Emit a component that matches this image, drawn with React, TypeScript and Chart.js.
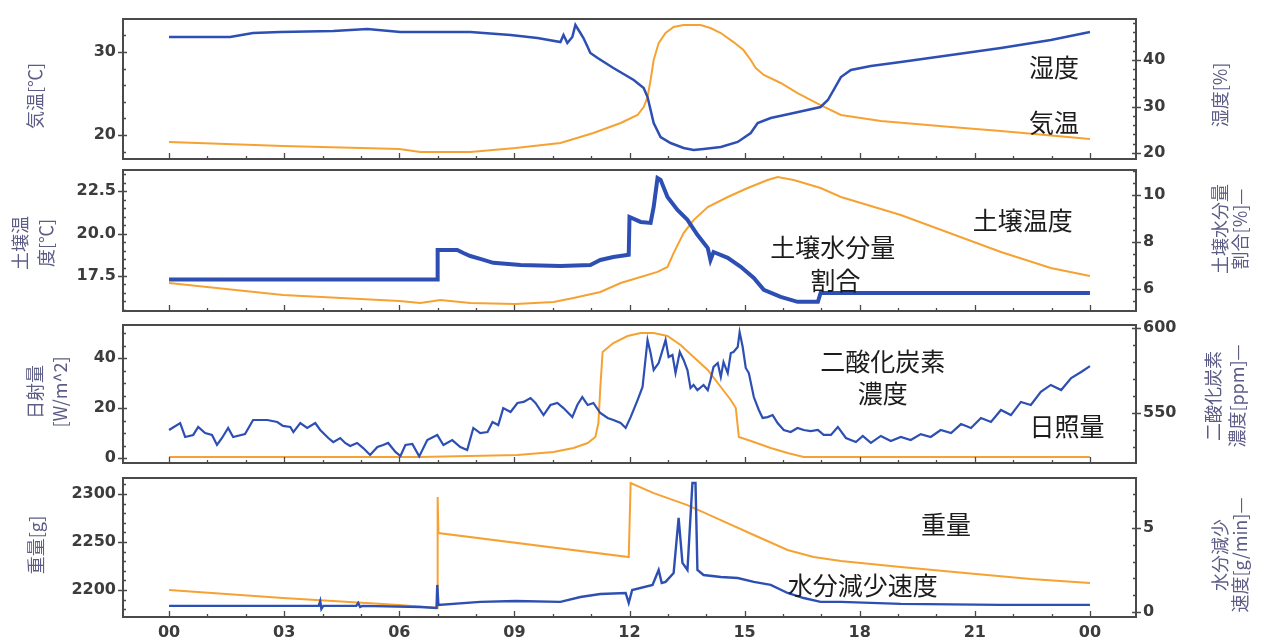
import React, { useEffect, useRef } from 'react';
import { Chart, registerables } from 'chart.js';

Chart.register(...registerables);

// ---------------- shared x axis ----------------
const HOUR_TICKS = [0, 3, 6, 9, 12, 15, 18, 21, 24];
const HOUR_LABELS = ['00', '03', '06', '09', '12', '15', '18', '21', '00'];

// ---------------- panel 1: air temperature / humidity ----------------
const airTempHours = [0, 2.97, 6.0, 6.55, 7.85, 9.03, 10.2, 11.06, 11.77, 12.21, 12.37, 12.47, 12.55, 12.63, 12.76, 12.94, 13.15, 13.41, 13.85, 14.11, 14.38, 14.71, 14.97, 15.16, 15.29, 15.5, 15.94, 16.38, 16.98, 17.51, 18.55, 20.38, 21.68, 24];
const airTempValues = [19.16, 18.67, 18.31, 17.95, 17.95, 18.43, 19.04, 20.24, 21.45, 22.41, 23.37, 24.58, 26.63, 29.04, 31.08, 32.29, 33.01, 33.25, 33.25, 32.89, 32.29, 31.2, 30.24, 29.04, 28.07, 27.23, 26.27, 25.06, 23.61, 22.41, 21.69, 20.96, 20.48, 19.52];
const humidityHours = [0, 1.59, 2.19, 2.9, 4.28, 5.17, 6.03, 6.55, 7.85, 8.9, 9.6, 10.2, 10.28, 10.38, 10.51, 10.59, 10.72, 10.8, 10.91, 10.98, 11.17, 11.58, 12.11, 12.37, 12.47, 12.55, 12.63, 12.81, 13.07, 13.41, 13.67, 13.93, 14.38, 14.82, 15.16, 15.34, 15.68, 16.28, 16.98, 17.17, 17.51, 17.77, 18.29, 19.07, 20.38, 21.68, 22.98, 24];
const humidityValues = [44.95, 44.95, 45.81, 46.02, 46.24, 46.67, 46.02, 46.02, 46.02, 45.38, 44.73, 43.87, 45.38, 43.66, 44.95, 47.53, 45.81, 44.73, 42.8, 41.51, 40.43, 38.28, 35.7, 33.98, 32.04, 29.25, 26.45, 23.44, 22.15, 21.08, 20.65, 20.86, 21.29, 22.37, 24.3, 26.45, 27.53, 28.6, 29.89, 31.4, 36.34, 37.85, 38.71, 39.57, 41.08, 42.58, 44.3, 46.02];
const p1LeftTicks = [20, 30];
const p1LeftLabels = ['20', '30'];
const p1RightTicks = [20, 30, 40];
const p1RightLabels = ['20', '30', '40'];

// ---------------- panel 2: soil temperature / soil moisture ----------------
const soilTempHours = [0, 2.97, 6.0, 6.55, 7.07, 7.85, 9.03, 10.02, 10.54, 11.24, 11.77, 12.29, 12.73, 12.99, 13.15, 13.41, 13.67, 14.04, 14.56, 15.08, 15.6, 15.86, 16.28, 16.98, 17.51, 19.07, 21.68, 22.98, 24];
const soilTempValues = [17.09, 16.38, 16.03, 15.91, 16.09, 15.91, 15.85, 15.97, 16.21, 16.56, 17.09, 17.44, 17.74, 18.03, 18.85, 20.03, 20.79, 21.56, 22.15, 22.68, 23.15, 23.32, 23.15, 22.68, 22.15, 21.09, 18.91, 17.97, 17.5];
const soilMoistHours = [0, 6.99, 7.0, 7.51, 7.67, 7.85, 8.11, 8.45, 9.16, 10.2, 10.98, 11.24, 11.58, 11.98, 12.0, 12.29, 12.55, 12.63, 12.73, 12.81, 12.99, 13.25, 13.51, 13.77, 14.04, 14.11, 14.19, 14.56, 14.9, 15.24, 15.5, 15.94, 16.38, 16.91, 16.98, 24];
const soilMoistValues = [6.4, 6.4, 7.66, 7.66, 7.53, 7.4, 7.28, 7.11, 7.02, 6.98, 7.02, 7.23, 7.36, 7.45, 9.06, 8.85, 8.81, 9.49, 10.72, 10.64, 9.91, 9.36, 8.94, 8.3, 7.74, 7.23, 7.57, 7.32, 6.94, 6.47, 5.96, 5.66, 5.45, 5.45, 5.83, 5.83];
const p2LeftTicks = [17.5, 20, 22.5];
const p2LeftLabels = ['17.5', '20.0', '22.5'];
const p2RightTicks = [6, 8, 10];
const p2RightLabels = ['6', '8', '10'];

// ---------------- panel 3: solar / CO2 ----------------
const solarHours = [0, 6.55, 9.08, 10.02, 10.54, 10.91, 11.11, 11.19, 11.24, 11.3, 11.58, 11.95, 12.29, 12.63, 12.99, 13.33, 13.67, 14.04, 14.38, 14.64, 14.77, 14.85, 15.24, 15.68, 16.12, 16.54, 24];
const solarValues = [0.4, 0.4, 1.2, 2.4, 4, 6, 8.4, 14, 28.4, 42.4, 46, 48.8, 50, 50, 48.8, 45.2, 40.4, 35.2, 28.4, 23.2, 20, 8.4, 6.4, 4, 2, 0.4, 0.4];
const co2Hours = [0, 0.29, 0.42, 0.63, 0.76, 0.94, 1.12, 1.25, 1.38, 1.54, 1.67, 1.98, 2.19, 2.32, 2.56, 2.82, 2.97, 3.16, 3.24, 3.42, 3.6, 3.81, 3.94, 4.15, 4.28, 4.46, 4.59, 4.72, 4.9, 5.06, 5.24, 5.43, 5.58, 5.71, 5.9, 6.03, 6.16, 6.34, 6.52, 6.73, 6.99, 7.15, 7.38, 7.59, 7.77, 7.93, 8.11, 8.3, 8.43, 8.58, 8.71, 8.9, 9.08, 9.24, 9.42, 9.55, 9.76, 9.94, 10.12, 10.28, 10.51, 10.64, 10.77, 10.91, 11.06, 11.24, 11.43, 11.58, 11.77, 11.9, 12.03, 12.21, 12.34, 12.47, 12.55, 12.63, 12.76, 12.94, 13.02, 13.12, 13.2, 13.31, 13.41, 13.51, 13.59, 13.67, 13.77, 13.93, 14.04, 14.11, 14.19, 14.3, 14.38, 14.45, 14.56, 14.64, 14.71, 14.82, 14.87, 14.95, 15.03, 15.11, 15.24, 15.37, 15.47, 15.6, 15.73, 15.86, 16.02, 16.2, 16.38, 16.54, 16.72, 16.91, 17.06, 17.25, 17.43, 17.64, 17.9, 18.08, 18.29, 18.55, 18.81, 19.07, 19.33, 19.59, 19.85, 20.11, 20.38, 20.64, 20.9, 21.16, 21.42, 21.68, 21.94, 22.2, 22.46, 22.72, 22.98, 23.25, 23.51, 23.77, 24];
const co2Values = [540.0, 544.1, 535.9, 537.1, 541.8, 538.2, 537.1, 531.2, 535.3, 541.2, 535.9, 537.6, 545.9, 545.9, 545.9, 544.7, 542.4, 541.8, 538.8, 544.1, 541.2, 544.1, 540.0, 535.3, 532.9, 535.3, 532.4, 530.6, 532.4, 529.4, 525.3, 530.0, 531.2, 532.4, 527.1, 524.7, 531.2, 531.8, 524.5, 534.1, 537.1, 531.2, 534.1, 530.0, 528.2, 541.2, 538.2, 538.8, 544.7, 542.9, 552.9, 550.6, 555.9, 556.5, 558.8, 555.9, 548.8, 554.7, 555.9, 552.9, 547.6, 554.7, 559.4, 554.7, 555.9, 550.0, 547.1, 545.9, 544.1, 541.2, 547.6, 557.6, 565.3, 592.9, 585.3, 575.3, 579.4, 592.9, 582.9, 584.1, 573.5, 585.9, 581.2, 575.3, 564.7, 566.5, 563.5, 566.5, 563.5, 569.4, 577.1, 579.4, 571.2, 580.0, 573.5, 585.3, 585.9, 588.8, 597.6, 588.8, 576.5, 573.5, 559.4, 551.8, 547.1, 547.6, 548.8, 544.1, 540.0, 538.8, 541.2, 540.0, 539.4, 540.0, 537.1, 537.1, 541.8, 535.3, 532.9, 536.5, 532.4, 536.5, 533.5, 535.9, 534.1, 537.6, 535.9, 540.0, 538.2, 543.5, 541.2, 547.1, 544.7, 551.8, 548.8, 556.5, 554.7, 562.4, 566.5, 563.5, 570.6, 574.1, 577.6];
const p3LeftTicks = [0, 20, 40];
const p3LeftLabels = ['0', '20', '40'];
const p3RightTicks = [550, 600];
const p3RightLabels = ['550', '600'];

// ---------------- panel 4: weight / water loss rate ----------------
const weightHours = [0, 2.97, 6.0, 6.99, 7.0, 7.02, 11.98, 12.03, 12.63, 13.51, 14.38, 15.24, 16.12, 16.8, 17.51, 19.07, 21.03, 22.46, 24];
const weightValues = [2200, 2191.7, 2184.4, 2181.3, 2296.9, 2259.4, 2234.4, 2311.5, 2301, 2288.5, 2272.9, 2257.3, 2241.7, 2234.4, 2230.2, 2224, 2216.7, 2211.5, 2207.3];
const lossHours = [0, 3.9, 3.94, 3.97, 4.02, 4.88, 4.93, 4.98, 5.04, 6.55, 6.97, 6.99, 7.02, 8.11, 9.03, 10.2, 10.72, 11.24, 11.9, 11.98, 12.07, 12.6, 12.76, 12.84, 12.94, 13.15, 13.28, 13.38, 13.51, 13.64, 13.72, 13.77, 13.93, 14.38, 14.82, 15.24, 15.68, 16.12, 16.54, 16.98, 17.51, 19.07, 21.68, 24];
const lossValues = [0.36, 0.36, 0.65, 0.18, 0.36, 0.36, 0.54, 0.3, 0.36, 0.3, 0.24, 1.61, 0.42, 0.6, 0.65, 0.6, 0.89, 1.07, 1.13, 0.54, 1.31, 1.61, 2.5, 1.73, 1.79, 2.32, 5.6, 2.92, 2.5, 7.68, 7.68, 2.5, 2.2, 2.08, 2.02, 1.79, 1.61, 1.13, 0.83, 0.6, 0.6, 0.48, 0.42, 0.42];
const p4LeftTicks = [2200, 2250, 2300];
const p4LeftLabels = ['2200', '2250', '2300'];
const p4RightTicks = [0, 5];
const p4RightLabels = ['0', '5'];

// ---------------- styles ----------------
const BLUE = '#2d4fb3';
const ORANGE = '#f6a233';
const FRAME = '#4a4a4a';
const TICK_COLOR = '#3c3c3c';
const TITLE_COLOR = '#5c5c86';
const NOTE_COLOR = '#1c1c1c';
const TICK_FONT = { family: 'DejaVu Sans', size: 16, weight: 'bold' as const };
const TITLE_FONT = '18px "Noto Sans CJK JP"';
const NOTE_FONT = '25px "Noto Sans CJK JP"';

type Axis = { min: number; max: number; ticks: number[]; labels: string[]; minor: number };
type Title = { lines: string[]; xs: number[]; cy: number };
type Note = { text: string; h: number; v: number };
type Panel = {
  top: number; height: number; padTop: number; padBottom: number; showX: boolean;
  left: Axis; right: Axis; blueWidth: number;
  orangeX: number[]; orangeY: number[]; blueX: number[]; blueY: number[];
  leftTitle: Title; rightTitle: Title; notes: Note[];
};

const PANELS: Panel[] = [
  {
    top: 0, height: 165, padTop: 19, padBottom: 6, showX: false, blueWidth: 2.5,
    left: { min: 17.11, max: 33.98, ticks: p1LeftTicks, labels: p1LeftLabels, minor: 2 },
    right: { min: 18.71, max: 48.82, ticks: p1RightTicks, labels: p1RightLabels, minor: 2 },
    orangeX: airTempHours, orangeY: airTempValues, blueX: humidityHours, blueY: humidityValues,
    leftTitle: { lines: ['気温[℃]'], xs: [35], cy: 96 },
    rightTitle: { lines: ['湿度[%]'], xs: [1220], cy: 95 },
    notes: [{ text: '湿度', h: 23.06, v: 28.19 }, { text: '気温', h: 23.06, v: 21.45 }],
  },
  {
    top: 165, height: 153, padTop: 5, padBottom: 7, showX: false, blueWidth: 4,
    left: { min: 15.44, max: 23.74, ticks: p2LeftTicks, labels: p2LeftLabels, minor: 0.5 },
    right: { min: 5.06, max: 11.06, ticks: p2RightTicks, labels: p2RightLabels, minor: 0.5 },
    orangeX: soilTempHours, orangeY: soilTempValues, blueX: soilMoistHours, blueY: soilMoistValues,
    leftTitle: { lines: ['土壌温', '度[℃]'], xs: [20, 46], cy: 78 },
    rightTitle: { lines: ['土壌水分量', '割合[%]—'], xs: [1220, 1240], cy: 64 },
    notes: [{ text: '土壌温度', h: 22.25, v: 20.74 }, { text: '土壌水分量', h: 17.3, v: 19.2 }, { text: '割合', h: 17.37, v: 17.26 }],
  },
  {
    top: 318, height: 152, padTop: 7, padBottom: 7, showX: false, blueWidth: 2.2,
    left: { min: -2, max: 53.2, ticks: p3LeftTicks, labels: p3LeftLabels, minor: 5 },
    right: { min: 520.6, max: 601.76, ticks: p3RightTicks, labels: p3RightLabels, minor: 10 },
    orangeX: solarHours, orangeY: solarValues, blueX: co2Hours, blueY: co2Values,
    leftTitle: { lines: ['日射量', '[W/m^2]'], xs: [35, 60], cy: 74 },
    rightTitle: { lines: ['二酸化炭素', '濃度[ppm]—'], xs: [1213, 1237], cy: 78 },
    notes: [{ text: '二酸化炭素', h: 18.6, v: 38.8 }, { text: '濃度', h: 18.6, v: 26 }, { text: '日照量', h: 23.4, v: 12.8 }],
  },
  {
    top: 470, height: 174, padTop: 8, padBottom: 0, showX: true, blueWidth: 2.4,
    left: { min: 2171.9, max: 2316.7, ticks: p4LeftTicks, labels: p4LeftLabels, minor: 10 },
    right: { min: -0.3, max: 7.98, ticks: p4RightTicks, labels: p4RightLabels, minor: 1 },
    orangeX: weightHours, orangeY: weightValues, blueX: lossHours, blueY: lossValues,
    leftTitle: { lines: ['重量[g]'], xs: [36], cy: 75 },
    rightTitle: { lines: ['水分減少', '速度[g/min]—'], xs: [1220, 1240], cy: 85 },
    notes: [{ text: '重量', h: 20.25, v: 2268.75 }, { text: '水分減少速度', h: 18.08, v: 2205.2 }],
  },
];

function decorPlugin(p: Panel) {
  return {
    id: 'decor',
    afterDatasetsDraw(chart: any) {
      const ctx: CanvasRenderingContext2D = chart.ctx;
      const a = chart.chartArea;
      const xs = chart.scales.x;
      const yl = chart.scales.yL;
      const yr = chart.scales.yR;
      ctx.save();
      ctx.strokeStyle = FRAME;
      ctx.lineWidth = 1.3;
      ctx.beginPath();
      for (let h = 0; h <= 24; h++) {
        const px = Math.round(xs.getPixelForValue(h)) + 0.5;
        const len = h % 3 === 0 ? 6 : 3;
        ctx.moveTo(px, a.bottom);
        ctx.lineTo(px, a.bottom - len);
      }
      const yTicks = (ax: Axis, scale: any, edge: number, dir: number) => {
        const k0 = Math.ceil(ax.min / ax.minor - 1e-9);
        const k1 = Math.floor(ax.max / ax.minor + 1e-9);
        for (let k = k0; k <= k1; k++) {
          const v = k * ax.minor;
          const py = Math.round(scale.getPixelForValue(v)) + 0.5;
          const isMajor = ax.ticks.some((t) => Math.abs(t - v) < 1e-6);
          if (isMajor) {
            ctx.moveTo(edge - dir * 5, py);
            ctx.lineTo(edge + dir * 4, py);
          } else {
            ctx.moveTo(edge, py);
            ctx.lineTo(edge + dir * 3, py);
          }
        }
      };
      yTicks(p.left, yl, a.left, 1);
      yTicks(p.right, yr, a.right, -1);
      ctx.stroke();
      ctx.lineWidth = 2;
      ctx.strokeRect(a.left, a.top, a.right - a.left, a.bottom - a.top);

      // axis titles (rotated, reading bottom to top)
      ctx.font = TITLE_FONT;
      ctx.fillStyle = TITLE_COLOR;
      ctx.textAlign = 'center';
      ctx.textBaseline = 'middle';
      for (const t of [p.leftTitle, p.rightTitle]) {
        t.lines.forEach((line, i) => {
          ctx.save();
          ctx.translate(t.xs[i], t.cy);
          ctx.rotate(-Math.PI / 2);
          ctx.fillText(line, 0, 0);
          ctx.restore();
        });
      }

      // annotations
      ctx.font = NOTE_FONT;
      ctx.fillStyle = NOTE_COLOR;
      for (const n of p.notes) {
        ctx.fillText(n.text, xs.getPixelForValue(n.h), yl.getPixelForValue(n.v));
      }
      ctx.restore();
    },
  };
}

function yScale(ax: Axis, position: 'left' | 'right', width: number) {
  return {
    type: 'linear' as const,
    position,
    min: ax.min,
    max: ax.max,
    grid: { display: false, drawTicks: false },
    border: { display: false },
    afterBuildTicks: (s: any) => {
      s.ticks = ax.ticks.map((v) => ({ value: v }));
    },
    ticks: {
      callback: (_v: any, i: number) => ax.labels[i],
      font: TICK_FONT,
      color: TICK_COLOR,
      padding: 7,
      autoSkip: false,
    },
    afterFit: (s: any) => {
      s.width = width;
      s.paddingTop = 0;
      s.paddingBottom = 0;
    },
  };
}

function PanelChart({ p }: { p: Panel }) {
  const ref = useRef<HTMLCanvasElement>(null);
  useEffect(() => {
    const canvas = ref.current;
    if (!canvas) return;
    const chart = new Chart(canvas, {
      type: 'line',
      data: {
        datasets: [
          {
            data: p.blueX.map((x, i) => ({ x, y: p.blueY[i] })),
            yAxisID: 'yR',
            borderColor: BLUE,
            borderWidth: p.blueWidth,
            pointRadius: 0,
            tension: 0,
          },
          {
            data: p.orangeX.map((x, i) => ({ x, y: p.orangeY[i] })),
            yAxisID: 'yL',
            borderColor: ORANGE,
            borderWidth: 2,
            pointRadius: 0,
            tension: 0,
          },
        ],
      },
      options: {
        responsive: false,
        animation: false,
        devicePixelRatio: 1,
        events: [],
        layout: { padding: { top: p.padTop, bottom: p.padBottom, left: 0, right: 0 } },
        plugins: { legend: { display: false }, tooltip: { enabled: false } },
        scales: {
          x: {
            type: 'linear',
            min: -1.2,
            max: 25.2,
            display: p.showX,
            grid: { display: false, drawTicks: false },
            border: { display: false },
            afterBuildTicks: (s: any) => {
              s.ticks = HOUR_TICKS.map((v) => ({ value: v }));
            },
            ticks: {
              callback: (_v: any, i: number) => HOUR_LABELS[i],
              font: TICK_FONT,
              color: TICK_COLOR,
              padding: 6,
              autoSkip: false,
              maxRotation: 0,
            },
            afterFit: (s: any) => {
              s.height = p.showX ? 27 : 0;
              s.paddingLeft = 0;
              s.paddingRight = 0;
            },
          },
          yL: yScale(p.left, 'left', 123),
          yR: yScale(p.right, 'right', 128),
        },
      } as any,
      plugins: [decorPlugin(p)],
    });
    return () => chart.destroy();
  }, [p]);
  return (
    <canvas
      ref={ref}
      width={1264}
      height={p.height}
      style={{ position: 'absolute', left: 0, top: p.top, width: 1264, height: p.height }}
    />
  );
}

export default function App() {
  return (
    <div style={{ position: 'absolute', left: 0, top: 0, width: 1264, height: 644, background: '#ffffff', overflow: 'hidden' }}>
      {PANELS.map((p, i) => (
        <PanelChart key={i} p={p} />
      ))}
    </div>
  );
}
